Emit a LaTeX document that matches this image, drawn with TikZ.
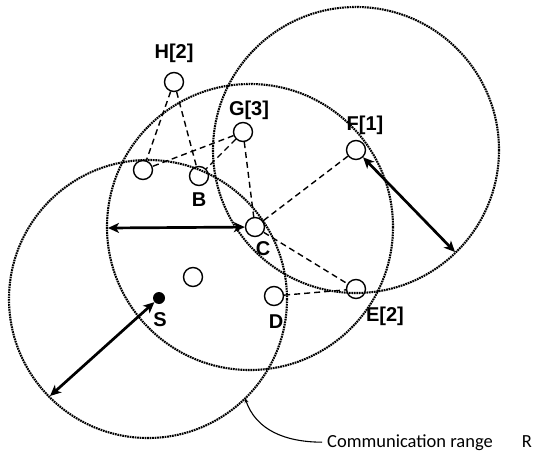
\documentclass[tikz,border=0pt]{standalone}
\usepackage{fontspec}
\setmainfont{Liberation Sans}
\newfontfamily\calib{Carlito}
\usetikzlibrary{arrows.meta}
\begin{document}
\begin{tikzpicture}[x=1pt,y=-1pt,
  commrange/.style={line width=2.1pt, dash pattern=on 1.7pt off 0.8pt},
  sensor/.style={circle, draw, line width=1.4pt, minimum size=19pt, inner sep=0pt},
  src/.style={circle, fill=black, minimum size=12pt, inner sep=0pt},
  link/.style={dash pattern=on 6pt off 4pt, line width=1.4pt},
  radarrow/.style={line width=2.7pt, {Stealth[length=11pt,width=10pt,inset=3pt]}-{Stealth[length=11pt,width=10pt,inset=3pt]}},
  lbl/.style={font=\bfseries\fontsize{20}{20}\selectfont, inner sep=0pt},
  note/.style={font=\calib\fontsize{18.5}{18.5}\selectfont, inner ysep=0pt, inner xsep=5pt, anchor=base west},
  pointer/.style={line width=1.1pt, -{Stealth[length=5pt,width=4pt]}},
]
\useasboundingbox (0,0) rectangle (534,454);

% communication ranges
\draw[commrange] (148,299) circle[radius=139];
\draw[commrange] (250,227) circle[radius=143];
\draw[commrange] (356,150) circle[radius=143];

% nodes
\node[sensor] (H) at (174,82) {};
\node[sensor] (G) at (243,132) {};
\node[sensor] (F) at (356,150) {};
\node[sensor] (L) at (143,170) {};
\node[sensor] (B) at (199,176) {};
\node[sensor] (C) at (255,227) {};
\node[sensor] (M) at (193,277) {};
\node[src]    (S) at (159,298) {};
\node[sensor] (D) at (274,296) {};
\node[sensor] (E) at (356,289) {};

% labels
\node[lbl] (lH) at (174,53) {H[2]};
\node[lbl] (lG) at (249,110) {G[3]};
\node[lbl] (lF) at (365,125) {F[1]};
\node[lbl] (lB) at (199,200) {B};
\node[lbl] (lC) at (263,249) {C};
\node[lbl] (lS) at (160,320) {S};
\node[lbl] (lD) at (276,322) {D};
\node[lbl] (lE) at (385,316) {E[2]};

% links
\draw[link] (H) -- (L);
\draw[link] (H) -- (B);
\draw[link] (G) -- (L);
\draw[link] (G) -- (B);
\draw[link] (G) -- (C);
\draw[link] (F) -- (C);
\draw[link] (C) -- (E);
\draw[link] (D) -- (E);

% radius arrows
\coordinate (ml) at (108,228);
\coordinate (fr) at (455,252);
\coordinate (sl) at (50,396);
\draw[radarrow] (ml) -- (C);
\draw[radarrow] (F) -- (fr);
\draw[radarrow] (S) -- (sl);

% annotation
\coordinate (cr) at (245,398);
\node[note] (txt) at (322,447) {Communication range};
\node[note, anchor=base east, inner xsep=0pt] (rr) at (532,447) {R};
\draw[pointer] (txt.west) .. controls (285,442) and (256,430) .. (cr);
\end{tikzpicture}
\end{document}
